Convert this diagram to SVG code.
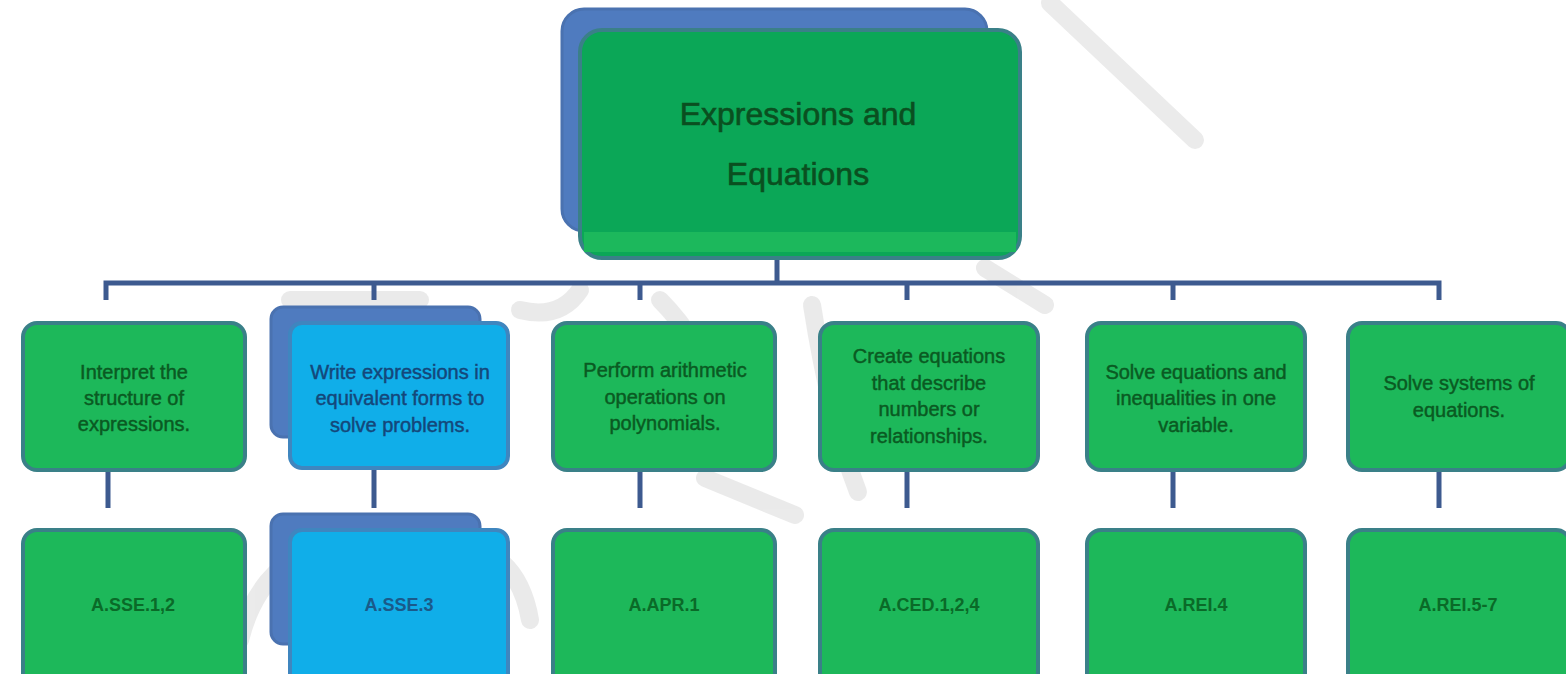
<svg xmlns="http://www.w3.org/2000/svg" width="1566" height="674" viewBox="0 0 1566 674">
<style>
.wm{fill:none;stroke:#e4e4e4;stroke-width:18;stroke-linecap:round;stroke-linejoin:round}
.back{fill:#4f7bbf;stroke:#4a72b0;stroke-width:3}
.green{fill:#1db85a;stroke:#3a8088;stroke-width:4}
.blue{fill:#10aee9;stroke:#3f86bf;stroke-width:4}
.top{fill:#0ba757;stroke:#3a8088;stroke-width:4}
.t{font-family:"Liberation Sans",Arial,sans-serif;font-size:20px;text-anchor:middle;fill:#0a5a22;stroke:#0a5a22;stroke-width:0.45}
.tb{fill:#14477a;stroke:#14477a}
.lbl{font-family:"Liberation Sans",Arial,sans-serif;font-size:18px;font-weight:bold;text-anchor:middle;fill:#0a6a28}
.lblb{fill:#1a5a8a}
.ttl{font-family:"Liberation Sans",Arial,sans-serif;font-size:32px;text-anchor:middle;fill:#0a4f20;stroke:#0a4f20;stroke-width:0.6}
.c{fill:none;stroke:#3d5a8f;stroke-width:5}
</style>
<rect width="1566" height="674" fill="#ffffff"/>
<g id="watermark" opacity="0.75">
<path class="wm" d="M1050 3 L1195 140"/>
<path class="wm" d="M985 268 L1045 305"/>
<path class="wm" d="M812 305 Q830 420 858 492"/>
<path class="wm" d="M705 478 L795 515"/>
<path class="wm" d="M660 300 Q700 340 720 400"/>
<path class="wm" d="M290 300 L420 300"/>
<path class="wm" d="M240 640 Q260 560 330 545"/>
<path class="wm" d="M470 545 Q520 560 530 620"/>
<path class="wm" d="M520 310 Q560 320 580 290"/>
</g>
<g id="connectors">
<path class="c" d="M777 258 V283"/>
<path class="c" d="M106 300 V283 H1439 V300"/>
<path class="c" d="M374 283 V300 M640 283 V300 M907 283 V300 M1173 283 V300"/>
<path class="c" d="M108 470 V508 M374 470 V508 M640 470 V508 M907 470 V508 M1173 470 V508 M1439 470 V508"/>
</g>
<g id="n0">
<rect class="back" x="562" y="9" width="425" height="222" rx="22"/>
<rect class="top" x="580" y="30" width="440" height="228" rx="22"/>
<rect x="584" y="232" width="432" height="20" fill="#1cb85c"/>
<text class="ttl" x="798" y="125">Expressions and</text>
<text class="ttl" x="798" y="185">Equations</text>
</g>
<g id="n1">
<rect class="green" x="23" y="323" width="222" height="147" rx="14"/>
<text class="t" x="134" y="379">Interpret the</text>
<text class="t" x="134" y="405">structure of</text>
<text class="t" x="134" y="431">expressions.</text>
</g>
<g id="n2">
<rect class="back" x="271" y="307" width="209" height="130" rx="12"/>
<rect class="blue" x="290" y="323" width="218" height="145" rx="12"/>
<text class="t tb" x="400" y="379">Write expressions in</text>
<text class="t tb" x="400" y="405">equivalent forms to</text>
<text class="t tb" x="400" y="432">solve problems.</text>
</g>
<g id="n3">
<rect class="green" x="553" y="323" width="222" height="147" rx="14"/>
<text class="t" x="665" y="377">Perform arithmetic</text>
<text class="t" x="665" y="404">operations on</text>
<text class="t" x="665" y="430">polynomials.</text>
</g>
<g id="n4">
<rect class="green" x="820" y="323" width="218" height="147" rx="14"/>
<text class="t" x="929" y="363">Create equations</text>
<text class="t" x="929" y="390">that describe</text>
<text class="t" x="929" y="416">numbers or</text>
<text class="t" x="929" y="443">relationships.</text>
</g>
<g id="n5">
<rect class="green" x="1087" y="323" width="218" height="147" rx="14"/>
<text class="t" x="1196" y="379">Solve equations and</text>
<text class="t" x="1196" y="405">inequalities in one</text>
<text class="t" x="1196" y="432">variable.</text>
</g>
<g id="n6">
<rect class="green" x="1348" y="323" width="222" height="147" rx="14"/>
<text class="t" x="1459" y="390">Solve systems of</text>
<text class="t" x="1459" y="417">equations.</text>
</g>
<g id="n7">
<rect class="green" x="23" y="530" width="222" height="160" rx="14"/>
<text class="lbl" x="133" y="611">A.SSE.1,2</text>
</g>
<g id="n8">
<rect class="back" x="271" y="514" width="209" height="130" rx="12"/>
<rect class="blue" x="290" y="530" width="218" height="160" rx="12"/>
<text class="lbl lblb" x="399" y="611">A.SSE.3</text>
</g>
<g id="n9">
<rect class="green" x="553" y="530" width="222" height="160" rx="14"/>
<text class="lbl" x="664" y="611">A.APR.1</text>
</g>
<g id="n10">
<rect class="green" x="820" y="530" width="218" height="160" rx="14"/>
<text class="lbl" x="929" y="611">A.CED.1,2,4</text>
</g>
<g id="n11">
<rect class="green" x="1087" y="530" width="218" height="160" rx="14"/>
<text class="lbl" x="1196" y="611">A.REI.4</text>
</g>
<g id="n12">
<rect class="green" x="1348" y="530" width="222" height="160" rx="14"/>
<text class="lbl" x="1458" y="611">A.REI.5-7</text>
</g>
</svg>
